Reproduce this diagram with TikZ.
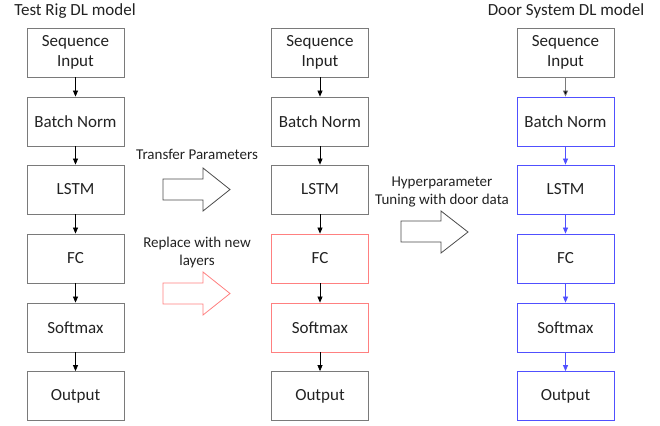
\documentclass[tikz,border=0pt]{standalone}
\usepackage{fontspec}
\setmainfont{Carlito}
\usetikzlibrary{arrows.meta}
\definecolor{boxgray}{HTML}{7A7A7A}
\definecolor{boxred}{HTML}{FF8080}
\definecolor{boxblue}{HTML}{5050FF}
\definecolor{txt}{HTML}{222222}
\tikzset{
  layer/.style={draw=boxgray, line width=0.8pt, minimum width=97pt, minimum height=49pt,
    inner sep=0pt, align=center, font=\fontsize{17}{20}\selectfont, text=txt},
  redlayer/.style={layer, draw=boxred},
  bluelayer/.style={layer, draw=boxblue},
  conn/.style={-{Triangle[length=6pt,width=5pt]}, line width=0.7pt, draw=black},
  blueconn/.style={conn, draw=boxblue, -{Triangle[length=6pt,width=5pt,fill=boxblue]}},
  grayconn/.style={conn, draw=boxgray, -{Triangle[length=6pt,width=5pt,fill=black]}},
  title/.style={font=\fontsize{17}{20}\selectfont, text=txt, inner sep=0pt},
  lab/.style={font=\fontsize{15}{18}\selectfont, text=txt, inner sep=0pt, align=center},
  bigarrow/.style={draw=black!70, line width=0.8pt, fill=white},
}
\begin{document}
\begin{tikzpicture}[x=1pt,y=-1pt]
\useasboundingbox (0,0) rectangle (660,425);
% titles
\node[title] (t1) at (75,11) {Test Rig DL model};
\node[title] (t3) at (566,11) {Door System DL model};
% column 1
\node[layer] (a1) at (75.5,52.5) {Sequence\\Input};
\node[layer] (a2) at (75.5,121.5) {Batch Norm};
\node[layer] (a3) at (75.5,189.5) {LSTM};
\node[layer] (a4) at (75.5,258.5) {FC};
\node[layer] (a5) at (75.5,327.5) {Softmax};
\node[layer] (a6) at (75.5,396) {Output};
\foreach \i/\j in {a1/a2,a2/a3,a3/a4,a4/a5,a5/a6} \draw[conn] (\i) -- (\j);
% column 2
\node[layer] (b1) at (320,52.5) {Sequence\\Input};
\node[layer] (b2) at (320,121.5) {Batch Norm};
\node[layer] (b3) at (320,189.5) {LSTM};
\node[redlayer] (b4) at (320,258.5) {FC};
\node[redlayer] (b5) at (320,327.5) {Softmax};
\node[layer] (b6) at (320,396) {Output};
\foreach \i/\j in {b1/b2,b2/b3,b3/b4,b4/b5,b5/b6} \draw[conn] (\i) -- (\j);
% column 3
\node[layer] (c1) at (565.5,52.5) {Sequence\\Input};
\node[bluelayer] (c2) at (565.5,121.5) {Batch Norm};
\node[bluelayer] (c3) at (565.5,189.5) {LSTM};
\node[bluelayer] (c4) at (565.5,258.5) {FC};
\node[bluelayer] (c5) at (565.5,327.5) {Softmax};
\node[bluelayer] (c6) at (565.5,396) {Output};
\draw[grayconn] (c1) -- (c2);
\foreach \i/\j in {c2/c3,c3/c4,c4/c5,c5/c6} \draw[blueconn] (\i) -- (\j);
% block arrows
\node[lab] (l1) at (197,154) {Transfer Parameters};
\draw[bigarrow] (163,179) -- (203,179) -- (203,168) -- (230,189.5) -- (203,211) -- (203,200) -- (163,200) -- cycle;
\node[lab] (l2) at (197,252) {Replace with new\\layers};
\draw[bigarrow, draw=boxred] (163,283) -- (203,283) -- (203,272) -- (230,293.5) -- (203,315) -- (203,304) -- (163,304) -- cycle;
\node[lab] (l3) at (442,191.5) {Hyperparameter\\Tuning with door data};
\draw[bigarrow] (401,221) -- (441,221) -- (441,211) -- (468,232) -- (441,253) -- (441,242) -- (401,242) -- cycle;
\end{tikzpicture}
\end{document}
